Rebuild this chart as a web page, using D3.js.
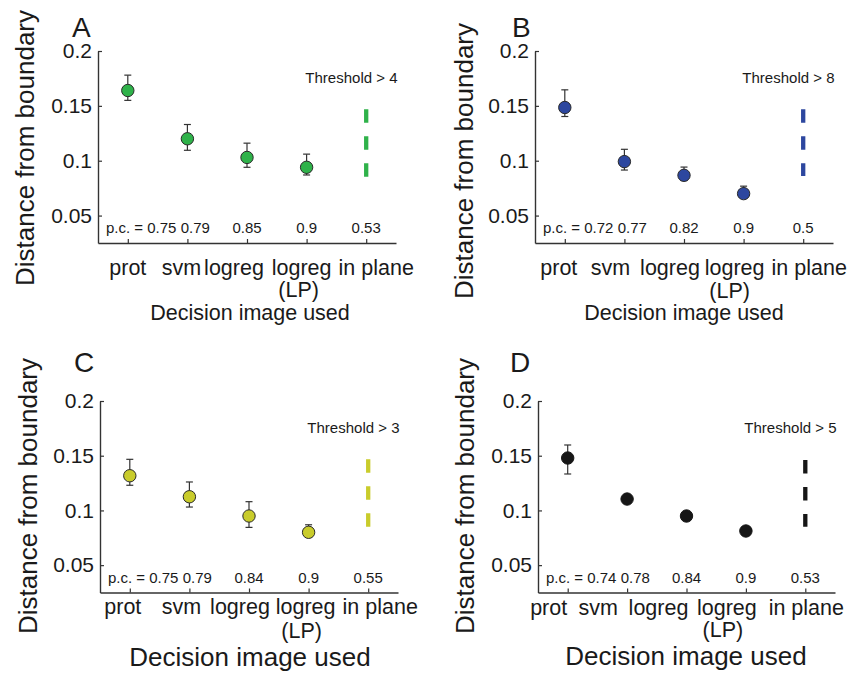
<!DOCTYPE html>
<html>
<head>
<meta charset="utf-8">
<script src="https://cdn.jsdelivr.net/npm/d3@7"></script>
<style>
  html, body { margin: 0; padding: 0; background: #fff; }
  svg { display: block; }
  text { font-family: "Liberation Sans", Arial, Helvetica, sans-serif; fill: #1a1a1a; }
</style>
</head>
<body>
<svg id="fig" width="849" height="675"></svg>
<script>
// Decision images compared along the x axis
const categories = ["prot", "svm", "logreg", "logreg", "in plane"];
const categorySecondLine = ["", "", "", "(LP)", ""];
const yTicks = [0.05, 0.1, 0.15, 0.2];
const yTickLabels = ["0.05", "0.1", "0.15", "0.2"];

// Panel A: threshold > 4
const meanA  = [0.164, 0.120, 0.103, 0.094];
const upperA = [0.178, 0.133, 0.116, 0.106];
const lowerA = [0.155, 0.1095, 0.094, 0.087];
const inPlaneA = [0.085, 0.147];
const pcA = ["0.75", "0.79", "0.85", "0.9", "0.53"];
const thresholdA = 4;

// Panel B: threshold > 8
const meanB  = [0.1485, 0.0992, 0.0867, 0.070];
const upperB = [0.1646, 0.1104, 0.0942, 0.0768];
const lowerB = [0.1403, 0.0915, 0.082, 0.066];
const inPlaneB = [0.086, 0.147];
const pcB = ["0.72", "0.77", "0.82", "0.9", "0.5"];
const thresholdB = 8;

// Panel C: threshold > 3
const meanC  = [0.1317, 0.1125, 0.0949, 0.080];
const upperC = [0.1467, 0.126, 0.108, 0.0869];
const lowerC = [0.123, 0.1031, 0.0845, 0.076];
const inPlaneC = [0.085, 0.1467];
const pcC = ["0.75", "0.79", "0.84", "0.9", "0.55"];
const thresholdC = 3;

// Panel D: threshold > 5
const meanD  = [0.1479, 0.1104, 0.0949, 0.0812];
const upperD = [0.1598, 0.1104, 0.0949, 0.0812];
const lowerD = [0.1333, 0.1104, 0.0949, 0.0812];
const inPlaneD = [0.085, 0.146];
const pcD = ["0.74", "0.78", "0.84", "0.9", "0.53"];
const thresholdD = 5;

const FONT_TICK = 21;
const FONT_CAT = 21.5;
const FONT_SMALL = 15;

const panels = [
  { letter: "A", color: "#2fb24a", stroke: "#2a2a2a",
    mean: meanA, upper: upperA, lower: lowerA, inPlane: inPlaneA, pc: pcA, threshold: thresholdA,
    box: { x0: 98, x1: 396, yTop: 51, yBot: 243 },
    letterPos: [72, 37], ylabPos: [34, 148],
    xlabFont: 21.5, baselines: [275, 297, 320],
    wordDx: [0, -6, -13, -5, 10], lpDx: -8, xlabCenter: 250 },
  { letter: "B", color: "#2d479f", stroke: "#2a2a2a",
    mean: meanB, upper: upperB, lower: lowerB, inPlane: inPlaneB, pc: pcB, threshold: thresholdB,
    box: { x0: 535, x1: 833, yTop: 51, yBot: 243 },
    letterPos: [512, 37], ylabPos: [473, 161],
    xlabFont: 21.5, baselines: [275, 298, 320],
    wordDx: [-6, -14, -14, -9, 6], lpDx: -14, xlabCenter: 684 },
  { letter: "C", color: "#c9cc2b", stroke: "#2a2a2a",
    mean: meanC, upper: upperC, lower: lowerC, inPlane: inPlaneC, pc: pcC, threshold: thresholdC,
    box: { x0: 100, x1: 398, yTop: 401, yBot: 592.5 },
    letterPos: [74, 372], ylabPos: [37, 496],
    xlabFont: 26, baselines: [614, 638, 666],
    wordDx: [-7, -8, -9, -3, 12], lpDx: -7, xlabCenter: 250 },
  { letter: "D", color: "#161616", stroke: "#161616",
    mean: meanD, upper: upperD, lower: lowerD, inPlane: inPlaneD, pc: pcD, threshold: thresholdD,
    box: { x0: 538, x1: 835, yTop: 401, yBot: 592.5 },
    letterPos: [510, 372], ylabPos: [474, 496],
    xlabFont: 26, baselines: [615, 637, 665],
    wordDx: [-19, -29, -28, -19, 1], lpDx: -23, xlabCenter: 686 }
];

const svg = d3.select("#fig");

panels.forEach(p => {
  const b = p.box;
  const x = d3.scaleLinear().domain([0.5, categories.length + 0.5]).range([b.x0, b.x1]);
  const y = d3.scaleLinear().domain([0.025, 0.2]).range([b.yBot, b.yTop]);
  const g = svg.append("g");

  // y axis with inward ticks
  const yAxis = g.append("g")
    .attr("transform", `translate(${b.x0},0)`)
    .call(d3.axisLeft(y).tickValues(yTicks)
      .tickFormat((d, i) => yTickLabels[i])
      .tickSizeInner(-4).tickSizeOuter(0).tickPadding(6));
  yAxis.select(".domain").attr("stroke", "#333").attr("stroke-width", 1.4);
  yAxis.selectAll(".tick line").attr("stroke", "#333").attr("stroke-width", 1.2);
  yAxis.selectAll(".tick text")
    .attr("font-size", FONT_TICK)
    .attr("font-family", "Liberation Sans, Arial, sans-serif")
    .attr("fill", "#1a1a1a");

  // x axis with inward ticks, labels drawn separately
  const xAxis = g.append("g")
    .attr("transform", `translate(0,${b.yBot})`)
    .call(d3.axisBottom(x).tickValues(d3.range(1, categories.length + 1))
      .tickFormat("").tickSizeInner(-4).tickSizeOuter(0));
  xAxis.select(".domain").attr("stroke", "#333").attr("stroke-width", 1.4);
  xAxis.selectAll(".tick line").attr("stroke", "#333").attr("stroke-width", 1.2);

  // category labels
  categories.forEach((c, i) => {
    g.append("text")
      .attr("x", x(i + 1) + p.wordDx[i])
      .attr("y", p.baselines[0])
      .attr("text-anchor", "middle")
      .attr("font-size", FONT_CAT)
      .text(c);
    if (categorySecondLine[i]) {
      g.append("text")
        .attr("x", x(i + 1) + p.lpDx)
        .attr("y", p.baselines[1])
        .attr("text-anchor", "middle")
        .attr("font-size", FONT_CAT)
        .text(categorySecondLine[i]);
    }
  });

  // x axis title
  g.append("text")
    .attr("x", p.xlabCenter)
    .attr("y", p.baselines[2])
    .attr("text-anchor", "middle")
    .attr("font-size", p.xlabFont)
    .text("Decision image used");

  // y axis title
  g.append("text")
    .attr("transform", `translate(${p.ylabPos[0]},${p.ylabPos[1]}) rotate(-90)`)
    .attr("text-anchor", "middle")
    .attr("font-size", 26)
    .text("Distance from boundary");

  // panel letter
  g.append("text")
    .attr("x", p.letterPos[0])
    .attr("y", p.letterPos[1])
    .attr("font-size", 28)
    .text(p.letter);

  // threshold note
  g.append("text")
    .attr("x", b.x1 + 1.5)
    .attr("y", b.yTop + 31.5)
    .attr("text-anchor", "end")
    .attr("font-size", FONT_SMALL)
    .text(`Threshold > ${p.threshold}`);

  // percent-correct row
  const pcY = b.yBot - 10;
  g.append("text")
    .attr("x", b.x0 + 8)
    .attr("y", pcY)
    .attr("font-size", FONT_SMALL)
    .text(`p.c. = ${p.pc[0]} ${p.pc[1]}`);
  p.pc.slice(2).forEach((v, j) => {
    g.append("text")
      .attr("x", x(j + 3))
      .attr("y", pcY)
      .attr("text-anchor", "middle")
      .attr("font-size", FONT_SMALL)
      .text(v);
  });

  // in-plane range as a thick dashed segment
  g.append("line")
    .attr("x1", x(5)).attr("x2", x(5))
    .attr("y1", y(p.inPlane[1])).attr("y2", y(p.inPlane[0]))
    .attr("stroke", p.color)
    .attr("stroke-width", 4.3)
    .attr("stroke-dasharray", "13.5,13.5");

  // error bars
  const pts = p.mean.map((m, i) => ({ i: i + 1, m, hi: p.upper[i], lo: p.lower[i] }));
  const eb = g.append("g").attr("stroke", "#333").attr("stroke-width", 1.2);
  pts.filter(d => d.hi - d.lo > 0).forEach(d => {
    const cx = x(d.i);
    eb.append("line").attr("x1", cx).attr("x2", cx).attr("y1", y(d.hi)).attr("y2", y(d.lo));
    eb.append("line").attr("x1", cx - 3.5).attr("x2", cx + 3.5).attr("y1", y(d.hi)).attr("y2", y(d.hi));
    eb.append("line").attr("x1", cx - 3.5).attr("x2", cx + 3.5).attr("y1", y(d.lo)).attr("y2", y(d.lo));
  });

  // mean markers
  g.selectAll("circle.pt").data(pts).enter().append("circle")
    .attr("class", "pt")
    .attr("cx", d => x(d.i))
    .attr("cy", d => y(d.m))
    .attr("r", 6.2)
    .attr("fill", p.color)
    .attr("stroke", p.stroke)
    .attr("stroke-width", 1);
});
</script>
</body>
</html>
